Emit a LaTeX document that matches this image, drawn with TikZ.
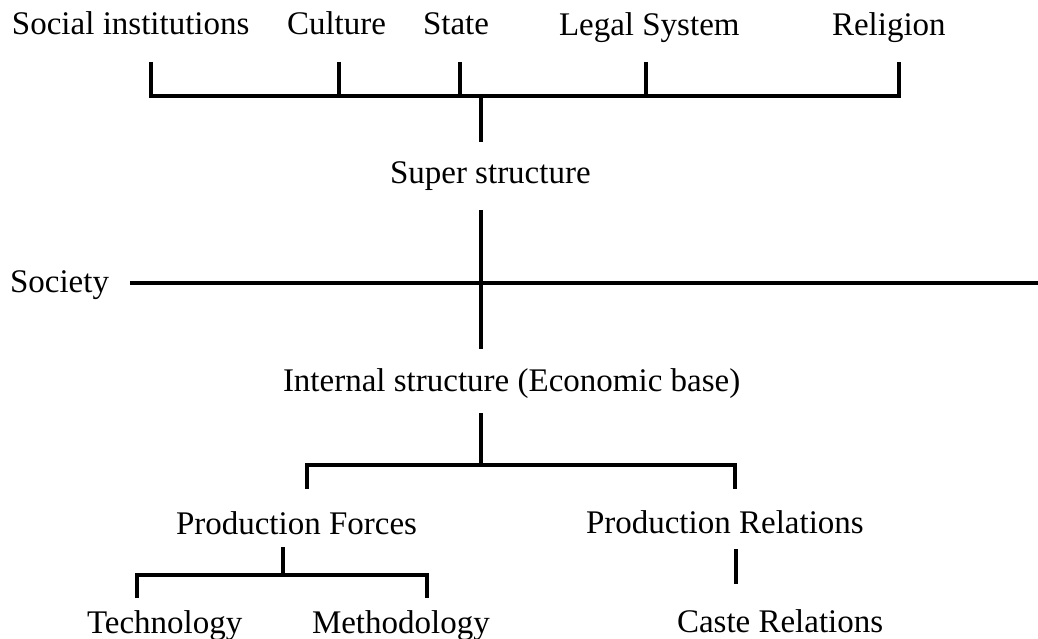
\documentclass[tikz,border=0pt]{standalone}
\usepackage{fontspec}
\setmainfont{Liberation Serif}
\begin{document}
\begin{tikzpicture}[x=1pt,y=-1pt,
  lbl/.style={inner sep=0pt,outer sep=0pt,anchor=base west,font=\fontsize{33}{40}\selectfont},
  conn/.style={line width=4pt,line join=miter,line cap=butt}]
\useasboundingbox (0,0) rectangle (1038,639);
% labels
\node[lbl] (si) at (12,35) {Social institutions};
\node[lbl] (cu) at (287,35) {Culture};
\node[lbl] (st) at (423,35) {State};
\node[lbl] (ls) at (559,36) {Legal System};
\node[lbl] (re) at (832,36) {Religion};
\node[lbl] (ss) at (390,183) {Super structure};
\node[lbl] (so) at (10,292) {Society};
\node[lbl] (is) at (283,391) {Internal structure (Economic base)};
\node[lbl] (pf) at (176,534) {Production Forces};
\node[lbl] (pr) at (586,533) {Production Relations};
\node[lbl] (te) at (87,633) {Technology};
\node[lbl] (me) at (312,633) {Methodology};
\node[lbl] (cr) at (677,632) {Caste Relations};
% junction coordinates
\coordinate (siT) at (151,62);
\coordinate (cuT) at (339,62);
\coordinate (stT) at (460,62);
\coordinate (lsT) at (646,62);
\coordinate (reT) at (899,62);
\coordinate (ssT) at (481,142);
\coordinate (ssB) at (481,210);
\coordinate (isT) at (481,349);
\coordinate (soR) at (130,283);
\coordinate (soE) at (1038,283);
\coordinate (isB) at (481,413);
\coordinate (pfT) at (307,489);
\coordinate (prT) at (735,489);
\coordinate (pfB) at (283,547);
\coordinate (teT) at (137,598);
\coordinate (meT) at (427,598);
\coordinate (prB) at (736,549);
\coordinate (crT) at (736,584);
% connectors
\draw[conn] (siT) -- (siT |- 0,96) -- (reT |- 0,96) -- (reT);
\draw[conn] (cuT) -- (cuT |- 0,96);
\draw[conn] (stT) -- (stT |- 0,96);
\draw[conn] (lsT) -- (lsT |- 0,96);
\draw[conn] (ssT |- 0,94) -- (ssT);
\draw[conn] (ssB) -- (isT);
\draw[conn] (soR) -- (soE);
\draw[conn] (isB) -- (isB |- 0,465);
\draw[conn] (pfT) -- (pfT |- 0,465) -- (prT |- 0,465) -- (prT);
\draw[conn] (pfB) -- (pfB |- 0,575);
\draw[conn] (teT) -- (teT |- 0,575) -- (meT |- 0,575) -- (meT);
\draw[conn] (prB) -- (crT);
\end{tikzpicture}
\end{document}
